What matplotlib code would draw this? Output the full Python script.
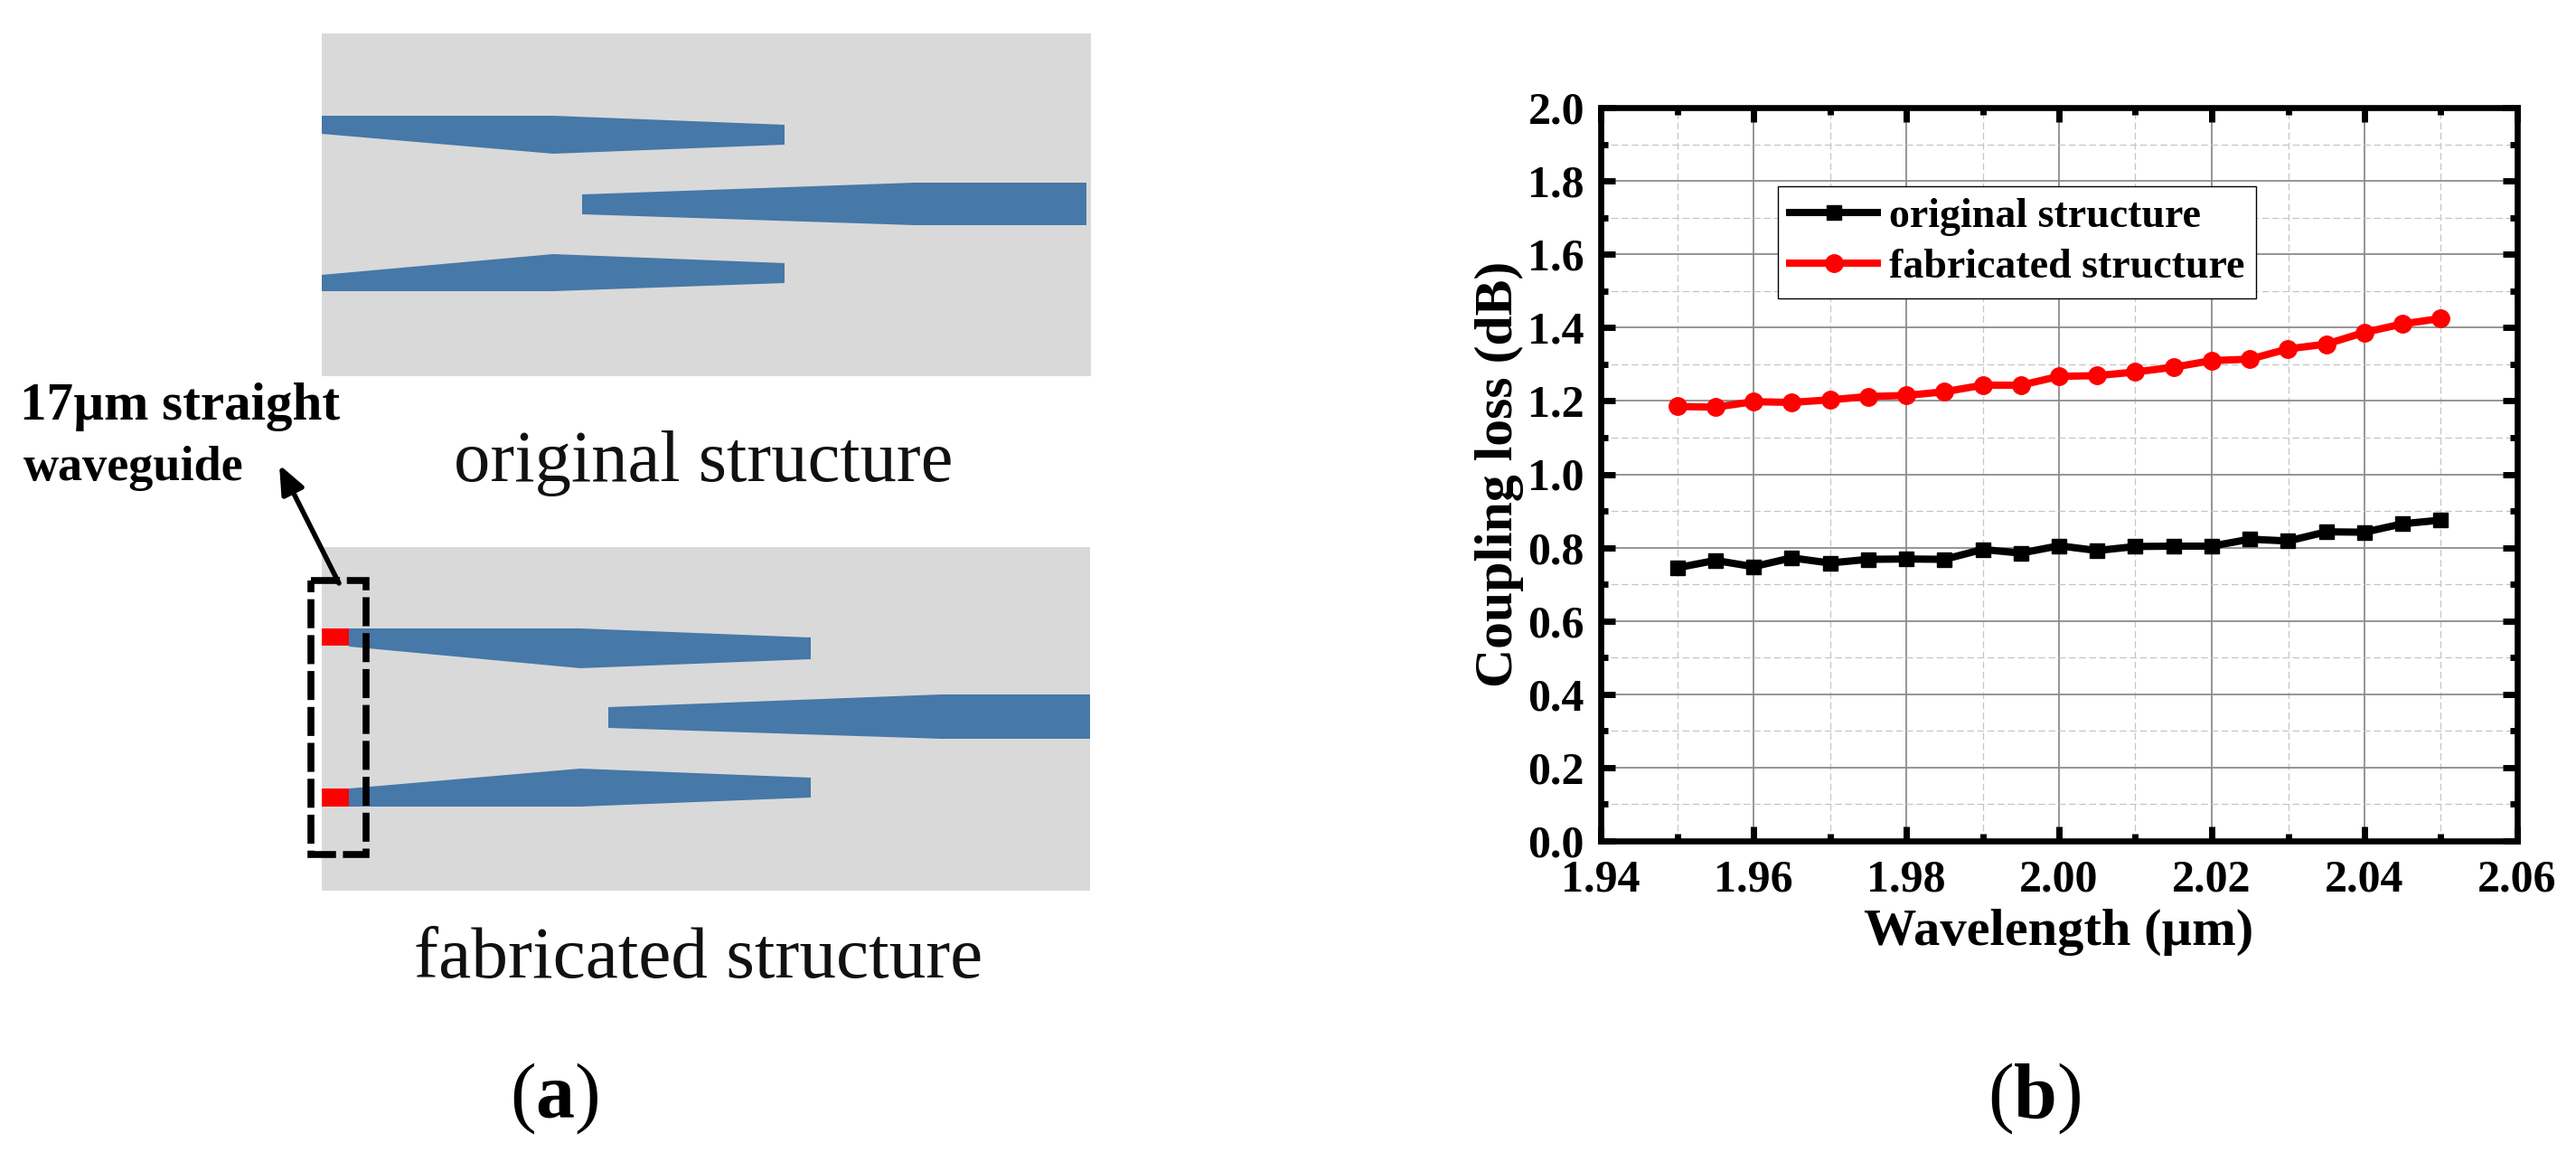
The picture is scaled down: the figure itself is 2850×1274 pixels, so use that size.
import numpy as np
import matplotlib
matplotlib.use("Agg")
import matplotlib.pyplot as plt
from matplotlib.patches import Polygon, Rectangle

plt.rcParams['font.family'] = ['Liberation Serif', 'DejaVu Serif']
plt.rcParams['mathtext.fontset'] = 'custom'
plt.rcParams['mathtext.rm'] = 'Liberation Serif'
plt.rcParams['mathtext.bf'] = 'Liberation Serif:bold'

W, H = 2850, 1274

wavelength = [1.950, 1.955, 1.960, 1.965, 1.970, 1.975, 1.980, 1.985, 1.990, 1.995, 2.000,
              2.005, 2.010, 2.015, 2.020, 2.025, 2.030, 2.035, 2.040, 2.045, 2.050]
original = [0.745, 0.765, 0.748, 0.772, 0.758, 0.768, 0.769, 0.768, 0.795, 0.785, 0.805,
            0.792, 0.803, 0.804, 0.804, 0.823, 0.818, 0.843, 0.842, 0.865, 0.875]
fabricated = [1.185, 1.183, 1.198, 1.196, 1.203, 1.212, 1.215, 1.225, 1.243, 1.243, 1.267,
              1.269, 1.279, 1.292, 1.310, 1.314, 1.342, 1.355, 1.387, 1.410, 1.425]
x_ticks = [1.94, 1.96, 1.98, 2.00, 2.02, 2.04, 2.06]
y_ticks = [0.0, 0.2, 0.4, 0.6, 0.8, 1.0, 1.2, 1.4, 1.6, 1.8, 2.0]

GREY, BLUE, RED = '#D9D9D9', '#4678A8', '#FF0000'

fig = plt.figure(figsize=(W / 100, H / 100), dpi=100, facecolor='white')

# schematic panel, in figure pixels
sk = fig.add_axes([0, 0, 1, 1])
sk.set_xlim(0, W)
sk.set_ylim(H, 0)
sk.axis('off')

top_tapers = [
    [(356, 128), (612, 128), (868, 138), (868, 160), (612, 170), (356, 148)],
    [(644, 215), (1012, 202), (1202, 202), (1202, 249), (1012, 249), (644, 237)],
    [(356, 304), (612, 281), (868, 291), (868, 313), (612, 322), (356, 322)],
]
bottom_tapers = [
    [(386, 695), (642, 695), (897, 705), (897, 729), (642, 739), (386, 715)],
    [(673, 782), (1041, 768), (1206, 768), (1206, 817), (1041, 817), (673, 805)],
    [(386, 872), (642, 850), (897, 860), (897, 882), (642, 892), (386, 892)],
]
sk.add_patch(Rectangle((356, 37), 851, 379, fc=GREY, ec='none'))
sk.add_patch(Rectangle((356, 605), 850, 380, fc=GREY, ec='none'))
for pts in top_tapers + bottom_tapers:
    sk.add_patch(Polygon(pts, closed=True, fc=BLUE, ec='none'))
sk.add_patch(Rectangle((356, 695), 30, 19, fc=RED, ec='none'))
sk.add_patch(Rectangle((356, 872), 30, 20, fc=RED, ec='none'))
sk.add_patch(Rectangle((344, 642), 61, 303, fc='none', ec='black', lw=5.5,
                       ls=(0, (4.2, 1.0)), zorder=5))
sk.annotate('', xy=(309, 514), xytext=(375, 645),
            arrowprops=dict(arrowstyle='-|>,head_length=1.9,head_width=0.8', mutation_scale=10,
                            color='black', lw=4, shrinkA=0, shrinkB=0), zorder=6)
sk.text(22, 464, '17µm straight', fontsize=42.5, fontweight='bold', ha='left', va='baseline')
sk.text(26, 531, 'waveguide', fontsize=39, fontweight='bold', ha='left', va='baseline')
sk.text(778, 532, 'original structure', fontsize=58, ha='center', va='baseline', color='#111111')
sk.text(773, 1081, 'fabricated structure', fontsize=58.5, ha='center', va='baseline', color='#111111')
sk.text(613, 1236, r'($\mathbf{a}$)', fontsize=62, ha='center', va='baseline')
sk.text(2251, 1236, r'($\mathbf{b}$)', fontsize=62, ha='center', va='baseline')

# line chart
L, R, T, B = 1771, 2785, 119, 930
ax = fig.add_axes([L / W, 1 - B / H, (R - L) / W, (B - T) / H], facecolor='none')
ax.set_xlim(1.94, 2.06)
ax.set_ylim(0, 2.0)
ax.set_xticks(x_ticks)
ax.set_yticks(y_ticks)
ax.set_xticks(np.arange(1.95, 2.06, 0.02), minor=True)
ax.set_yticks(np.arange(0.1, 2.0, 0.2), minor=True)
ax.set_xticklabels([f'{v:.2f}' for v in x_ticks], fontsize=36, fontweight='bold')
ax.set_yticklabels([f'{v:.1f}' for v in y_ticks], fontsize=36, fontweight='bold')
ax.grid(True, which='major', color='#8C8C8C', lw=1.3, ls='-')
ax.grid(True, which='minor', color='#C6C6C6', lw=0.9, ls=(0, (6, 3)))
ax.set_axisbelow(True)
ax.tick_params(which='major', direction='in', length=11.5, width=5, top=True, right=True)
ax.tick_params(which='minor', direction='in', length=6, width=5, top=True, right=True)
ax.tick_params(axis='x', which='major', pad=15)
ax.tick_params(axis='y', which='major', pad=13)
for s in ax.spines.values():
    s.set_linewidth(4.8)
ax.plot(wavelength, original, '-s', color='black', lw=5.8, ms=11.5, label='original structure')
ax.plot(wavelength, fabricated, '-o', color=RED, lw=5.8, ms=14, label='fabricated structure')
ax.set_xlabel('Wavelength (µm)', fontsize=42, fontweight='bold')
ax.set_ylabel('Coupling loss (dB)', fontsize=43, fontweight='bold')
ax.xaxis.set_label_coords(0.5, -(1005 - B) / (B - T))
ax.yaxis.set_label_coords((1686 - L) / (R - L), 0.5)
leg = ax.legend(loc='upper left', bbox_to_anchor=((1967 - L) / (R - L), 1 - (206 - T) / (B - T)),
                prop=dict(size=33, weight='bold'), fancybox=False, framealpha=1,
                edgecolor='black', handlelength=2.13, handletextpad=0.27, labelspacing=0.3,
                borderpad=0.28, borderaxespad=0)
leg.get_frame().set_linewidth(1)

fig.savefig('out.png', dpi=100)
